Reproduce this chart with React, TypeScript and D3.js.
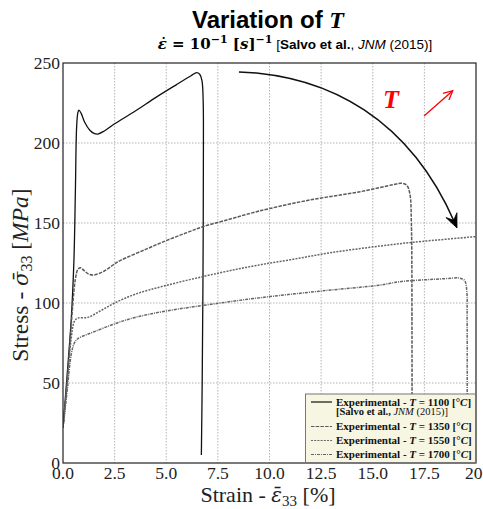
import React from "react";
import * as d3 from "d3";

const xTicks = [0, 2.5, 5, 7.5, 10, 12.5, 15, 17.5, 20];
const xTickLabels = ["0.0", "2.5", "5.0", "7.5", "10.0", "12.5", "15.0", "17.5", "20."];
const yTicks = [0, 50, 100, 150, 200, 250];
const yTickLabels = ["0", "50", "100", "150", "200", "250"];

const strain1100 = [0, 0.2, 0.4, 0.53, 0.6, 0.66, 0.72, 0.77, 0.88, 1.05, 1.3, 1.5, 1.68, 2.0, 2.5, 3.5, 4.5, 5.5, 6.2, 6.47, 6.62, 6.73, 6.79, 6.8, 6.78, 6.74, 6.7];
const stress1100 = [22, 55, 90, 127, 170, 210, 219, 220.5, 218.5, 213, 208, 206, 205.6, 207.5, 212, 220, 228.5, 236.5, 242, 244, 243, 239, 225, 200, 120, 50, 5];

const strain1350 = [0, 0.2, 0.45, 0.6, 0.72, 0.85, 1.0, 1.25, 1.5, 2.0, 2.5, 2.84, 4, 5, 6, 6.78, 8.1, 9.06, 10, 12, 14.4, 16.0, 16.4, 16.65, 16.8, 16.87, 16.9, 16.9];
const stress1350 = [22, 50, 95, 115, 121, 122, 120.5, 118, 117.5, 120, 124.5, 127, 133.5, 139, 144, 147.7, 152.5, 156, 159, 164.5, 169.6, 174, 174.8, 173.5, 168, 150, 80, 0];

const strain1550 = [0, 0.2, 0.4, 0.55, 0.7, 1.2, 1.8, 2.5, 3.5, 5, 7.5, 9.3, 11, 13, 15.35, 17, 20];
const stress1550 = [22, 50, 78, 88.5, 90.5, 91, 95, 100, 105.5, 111, 118.6, 123.3, 127, 131.5, 135.6, 138, 141.5];

const strain1700 = [0, 0.2, 0.4, 0.55, 0.7, 1.0, 1.5, 2.5, 3.5, 5, 7.5, 9.3, 12.5, 15.35, 16.3, 18.5, 19.2, 19.45, 19.55, 19.57, 19.57];
const stress1700 = [22, 45, 68, 75, 77.5, 79.5, 82, 87, 91, 95, 99.8, 102.9, 107.5, 111.2, 113.3, 115.2, 115.6, 114, 108, 90, 0];

const seriesNames = ["1100", "1350", "1550", "1700"];

// annotation arrow (data coords): start, control1, control2, end
const arrowStrain = [8.52, 12.93, 16.8, 19.08];
const arrowStress = [244.4, 242.5, 214.4, 146.9];

const W = 483, H = 509;
const L = 63, R = 476, T = 63, B = 463;

export default function App() {
  const x = d3.scaleLinear().domain([0, 20]).range([L, R]);
  const y = d3.scaleLinear().domain([0, 250]).range([B, T]);

  const line = d3
    .line<[number, number]>()
    .x((d) => x(d[0]))
    .y((d) => y(d[1]))
    .curve(d3.curveCatmullRom.alpha(0.5));

  const zip = (a: number[], b: number[]) => a.map((v, i) => [v, b[i]] as [number, number]);

  const series = [
    { d: zip(strain1100, stress1100), color: "#111", dash: undefined, w: 1.3 },
    { d: zip(strain1350, stress1350), color: "#5a5a5a", dash: "3.5,1.2", w: 1.5 },
    { d: zip(strain1550, stress1550), color: "#666", dash: "2,1.2", w: 1.5 },
    { d: zip(strain1700, stress1700), color: "#666", dash: "3,1,1,1", w: 1.5 },
  ];

  // curved arrow
  const ax = arrowStrain.map((v) => x(v));
  const ay = arrowStress.map((v) => y(v));
  const p = d3.path();
  p.moveTo(ax[0], ay[0]);
  const dx = ax[3] - ax[2], dy = ay[3] - ay[2];
  const len = Math.hypot(dx, dy);
  const ux = dx / len, uy = dy / len;
  const headLen = 14, headW = 6;
  p.bezierCurveTo(ax[1], ay[1], ax[2], ay[2], ax[3] - ux * 6, ay[3] - uy * 6);
  const tipX = ax[3], tipY = ay[3];
  const baseX = tipX - ux * headLen, baseY = tipY - uy * headLen;
  const notchX = tipX - ux * headLen * 0.6, notchY = tipY - uy * headLen * 0.6;
  const px = -uy, py = ux;
  const head = `M${tipX},${tipY} L${baseX + px * headW},${baseY + py * headW} L${notchX},${notchY} L${baseX - px * headW},${baseY - py * headW} Z`;

  // red arrow
  const r0 = [424, 116], r1 = [452.7, 90.7];
  const rdx = r1[0] - r0[0], rdy = r1[1] - r0[1];
  const rl = Math.hypot(rdx, rdy);
  const rux = rdx / rl, ruy = rdy / rl;
  const rh = 9, rw = 4.5;
  const rb = [r1[0] - rux * rh, r1[1] - ruy * rh];
  const redHead = `M${rb[0] - ruy * rw},${rb[1] + rux * rw} L${r1[0]},${r1[1]} L${rb[0] + ruy * rw},${rb[1] - rux * rw}`;

  const serif = "'Liberation Serif', 'DejaVu Serif', serif";
  const dserif = "'DejaVu Serif', serif";
  const sans = "'Liberation Sans', Arial, sans-serif";

  const legRows = [
    { y: 402, s: 0 },
    { y: 426.5, s: 1 },
    { y: 440.5, s: 2 },
    { y: 454.5, s: 3 },
  ];

  return (
    <svg width={W} height={H} style={{ position: "absolute", left: 0, top: 0, background: "#fff" }}>
      <defs>
        <clipPath id="plotclip">
          <rect x={L} y={T} width={R - L} height={B - T} />
        </clipPath>
      </defs>
      {/* title */}
      <text x={268} y={28} textAnchor="middle" fontFamily={sans} fontWeight="bold" fontSize={24} fill="#000">
        Variation of <tspan fontFamily={serif} fontStyle="italic">T</tspan>
      </text>
      <text x={295} y={49} textAnchor="middle" fontSize={13.5} fill="#000">
        <tspan fontFamily={dserif} fontWeight="bold" fontStyle="italic" fontSize={15}>ε̇</tspan>
        <tspan fontFamily={dserif} fontWeight="bold" fontSize={15}> = 10</tspan>
        <tspan fontFamily={dserif} fontWeight="bold" fontSize={11} dy={-6}>−1</tspan>
        <tspan fontFamily={dserif} fontWeight="bold" fontSize={15} dy={6}> [</tspan>
        <tspan fontFamily={dserif} fontWeight="bold" fontStyle="italic" fontSize={15}>s</tspan>
        <tspan fontFamily={dserif} fontWeight="bold" fontSize={15}>]</tspan>
        <tspan fontFamily={dserif} fontWeight="bold" fontSize={11} dy={-6}>−1</tspan>
        <tspan fontFamily={sans} dy={6}> [</tspan>
        <tspan fontFamily={sans} fontWeight="bold">Salvo et al.</tspan>
        <tspan fontFamily={sans}>, </tspan>
        <tspan fontFamily={sans} fontStyle="italic">JNM</tspan>
        <tspan fontFamily={sans}> (2015)]</tspan>
      </text>

      {/* grid */}
      <g stroke="#b5b5b5" strokeWidth={1} strokeDasharray="1.5,1.5">
        {xTicks.slice(1, -1).map((t) => (
          <line key={"gx" + t} x1={x(t)} x2={x(t)} y1={T} y2={B} />
        ))}
        {yTicks.slice(1, -1).map((t) => (
          <line key={"gy" + t} x1={L} x2={R} y1={y(t)} y2={y(t)} />
        ))}
      </g>

      {/* series */}
      <g clipPath="url(#plotclip)" fill="none">
        {series.map((s, i) => (
          <path key={seriesNames[i]} d={line(s.d) || ""} stroke={s.color} strokeWidth={s.w} strokeDasharray={s.dash} />
        ))}
      </g>

      {/* big arrow */}
      <path d={p.toString()} fill="none" stroke="#111" strokeWidth={1.6} />
      <path d={head} fill="#000" stroke="#000" strokeWidth={0.8} strokeLinejoin="miter" />

      {/* red T and arrow */}
      <text x={391} y={108} textAnchor="middle" fontFamily={serif} fontWeight="bold" fontStyle="italic" fontSize={26} fill="#ff0000">
        T
      </text>
      <line x1={r0[0]} y1={r0[1]} x2={r1[0]} y2={r1[1]} stroke="#ff0000" strokeWidth={1.3} />
      <path d={redHead} fill="none" stroke="#ff0000" strokeWidth={1.3} />

      {/* frame */}
      <rect x={L} y={T} width={R - L} height={B - T} fill="none" stroke="#222" strokeWidth={1.2} />

      {/* tick labels */}
      <g fontFamily={serif} fontSize={17.5} fill="#222">
        {xTicks.map((t, i) => (
          <text key={"xl" + t} x={x(t)} y={479} textAnchor="middle">
            {xTickLabels[i]}
          </text>
        ))}
        {yTicks.map((t, i) => (
          <text key={"yl" + t} x={60} y={y(t) + 6} textAnchor="end">
            {yTickLabels[i]}
          </text>
        ))}
      </g>

      {/* axis labels */}
      <text x={268} y={502} textAnchor="middle" fontFamily={serif} fontSize={22} fill="#222">
        Strain - <tspan fontFamily={dserif} fontStyle="italic" fontSize={20}>ε̄</tspan>
        <tspan fontSize={15} dy={4}>33</tspan>
        <tspan dy={-4}> [%]</tspan>
      </text>
      <text transform="translate(28,275) rotate(-90)" textAnchor="middle" fontFamily={serif} fontSize={23.5} fill="#222">
        Stress - <tspan fontFamily={dserif} fontStyle="italic" fontSize={21}>σ̄</tspan>
        <tspan fontSize={16} dy={4}>33</tspan>
        <tspan dy={-4}> [</tspan>
        <tspan fontStyle="italic">MPa</tspan>
        <tspan>]</tspan>
      </text>

      {/* legend */}
      <g>
        <rect x={305.5} y={394} width={170} height={68.5} fill="#f6f6e2" stroke="#777" strokeWidth={1} />
        {legRows.map((r) => {
          const s = series[r.s];
          return (
            <g key={"lg" + r.s}>
              <line x1={311} x2={332} y1={r.y} y2={r.y} stroke={s.color} strokeWidth={1.2} strokeDasharray={s.dash} />
              <text x={336} y={r.y + 3.5} fontFamily={serif} fontSize={11} fill="#111" fontWeight="bold">
                Experimental - <tspan fontStyle="italic">T</tspan> = {seriesNames[r.s]} [°<tspan fontStyle="italic">C</tspan>]
              </text>
            </g>
          );
        })}
        <text x={336} y={415} fontFamily={serif} fontSize={10.5} fill="#111">
          <tspan fontWeight="bold">[Salvo et al., </tspan>
          <tspan fontStyle="italic">JNM</tspan>
          <tspan> (2015)]</tspan>
        </text>
      </g>
    </svg>
  );
}
